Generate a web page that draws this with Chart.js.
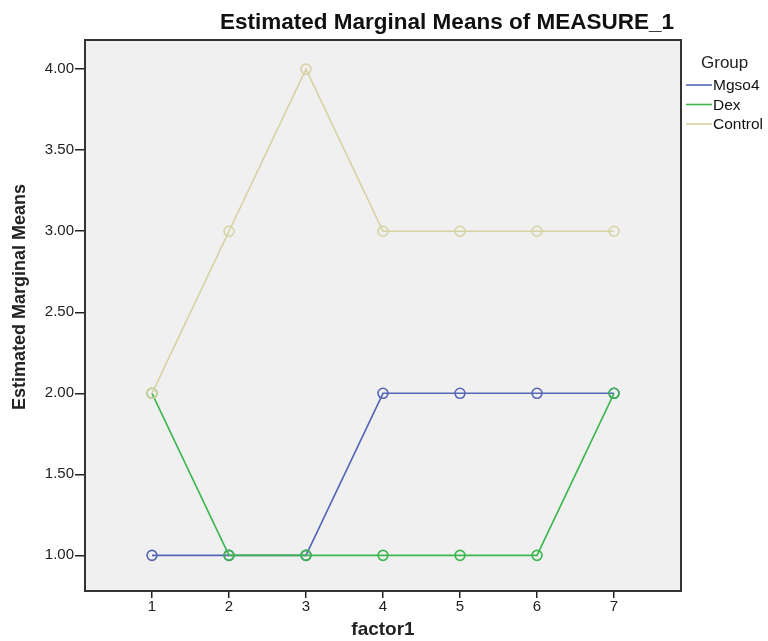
<!DOCTYPE html>
<html>
<head>
<meta charset="utf-8">
<script src="https://cdn.jsdelivr.net/npm/chart.js@4/dist/chart.umd.min.js"></script>
<style>
  html, body { margin: 0; padding: 0; background: #fff; }
  #wrap { width: 768px; height: 641px; }
</style>
</head>
<body>
<div id="wrap"><canvas id="emmChart" width="768" height="641"></canvas></div>
<script>
const factorLevels = [1, 2, 3, 4, 5, 6, 7];
const groupNames = ['Mgso4', 'Dex', 'Control'];
const mgso4Means = [1, 1, 1, 2, 2, 2, 2];
const dexMeans = [2, 1, 1, 1, 1, 1, 2];
const controlMeans = [2, 3, 4, 3, 3, 3, 3];
const yTicks = [1.0, 1.5, 2.0, 2.5, 3.0, 3.5, 4.0];
const groupColors = ['#5566b8', '#3cb64e', '#d6d2a2'];

const FONT = '"Liberation Sans", Arial, sans-serif';
const seriesValues = [mgso4Means, dexMeans, controlMeans];
const datasets = groupNames.map((name, i) => ({
    label: name,
    data: factorLevels.map((f, j) => ({ x: f, y: seriesValues[i][j] })),
    borderColor: groupColors[i],
    backgroundColor: 'rgba(0,0,0,0)',
    borderWidth: 1.6,
    pointRadius: 5,
    pointBorderWidth: 1.6,
    pointStyle: 'circle',
    tension: 0
}));
// draw control first so the others sit on top
datasets.reverse();

const plotFrame = {
    id: 'plotFrame',
    beforeDraw(chart) {
        const { ctx, chartArea: a } = chart;
        ctx.save();
        ctx.fillStyle = '#f0f0f0';
        ctx.fillRect(a.left, a.top, a.right - a.left, a.bottom - a.top);
        ctx.restore();
    },
    afterDraw(chart) {
        const { ctx, chartArea: a } = chart;
        ctx.save();
        ctx.strokeStyle = '#333';
        ctx.lineWidth = 2;
        ctx.strokeRect(a.left, a.top, a.right - a.left, a.bottom - a.top);
        // title
        ctx.fillStyle = '#111';
        ctx.font = 'bold 22.5px ' + FONT;
        ctx.textAlign = 'center';
        ctx.textBaseline = 'middle';
        ctx.fillText('Estimated Marginal Means of MEASURE_1', 447, 23);
        // y axis title
        ctx.save();
        ctx.translate(20, 297);
        ctx.rotate(-Math.PI / 2);
        ctx.font = 'bold 18px ' + FONT;
        ctx.fillStyle = '#222';
        ctx.fillText('Estimated Marginal Means', 0, 0);
        ctx.restore();
        // legend
        ctx.textAlign = 'left';
        ctx.font = '17px ' + FONT;
        ctx.fillStyle = '#222';
        ctx.fillText('Group', 701, 63);
        ctx.font = '15.5px ' + FONT;
        groupNames.forEach((name, i) => {
            const y = 85 + i * 19.5;
            ctx.strokeStyle = groupColors[i];
            ctx.lineWidth = 1.6;
            ctx.beginPath();
            ctx.moveTo(686, y);
            ctx.lineTo(712, y);
            ctx.stroke();
            ctx.fillStyle = '#111';
            ctx.fillText(name, 713, y + 1);
        });
        ctx.restore();
    }
};

new Chart('emmChart', {
    type: 'line',
    data: { datasets: datasets },
    options: {
        responsive: false,
        animation: false,
        layout: { padding: { left: 0, top: 40, right: 87, bottom: 0 } },
        plugins: { legend: { display: false }, title: { display: false }, tooltip: { enabled: false } },
        scales: {
            x: {
                type: 'linear',
                min: 0.13,
                max: 7.87,
                afterBuildTicks: s => { s.ticks = factorLevels.map(v => ({ value: v })); },
                afterFit: s => { s.height = 50; },
                grid: { drawOnChartArea: false, drawTicks: true, tickLength: 7, color: '#222', lineWidth: 1.5 },
                border: { display: false },
                ticks: { color: '#222', font: { size: 15, family: FONT }, padding: 0, callback: v => String(v) },
                title: { display: true, text: 'factor1', color: '#222', font: { size: 19, weight: 'bold', family: FONT }, padding: { top: 5, bottom: 0 } }
            },
            y: {
                min: 0.78,
                max: 4.18,
                afterBuildTicks: s => { s.ticks = yTicks.map(v => ({ value: v })); },
                afterFit: s => { s.width = 85; },
                grid: { drawOnChartArea: false, drawTicks: true, tickLength: 10, color: '#222', lineWidth: 1.5 },
                border: { display: false },
                ticks: { color: '#222', font: { size: 15, family: FONT }, padding: 1, callback: v => v.toFixed(2) },
                title: { display: false }
            }
        }
    },
    plugins: [plotFrame]
});
</script>
</body>
</html>
